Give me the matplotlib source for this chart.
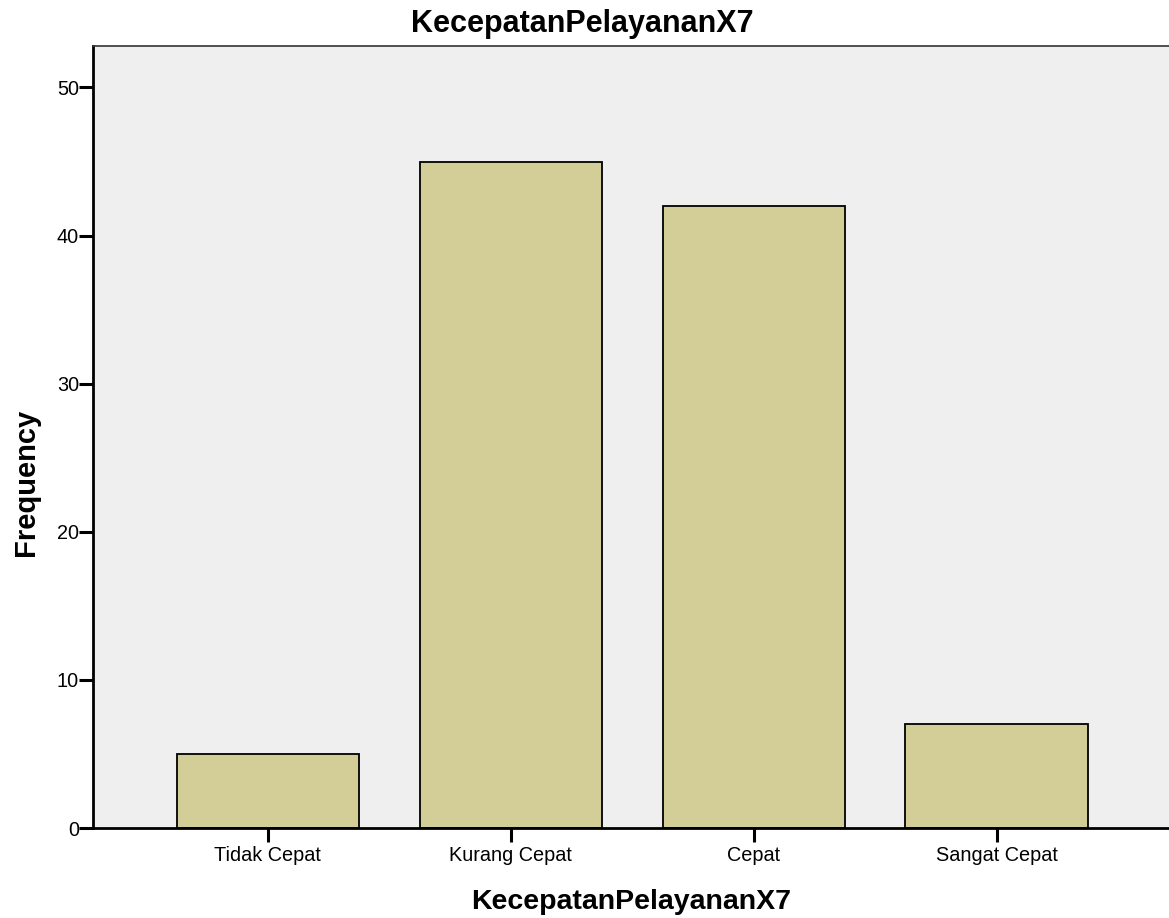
import matplotlib
matplotlib.use("Agg")
import matplotlib.pyplot as plt

categories = ["Tidak Cepat", "Kurang Cepat", "Cepat", "Sangat Cepat"]
frequencies = [5, 45, 42, 7]
y_ticks = [0, 10, 20, 30, 40, 50]
title = "KecepatanPelayananX7"

plt.rcParams['font.family'] = ['Liberation Sans', 'DejaVu Sans']

W, H = 1169, 918
fig = plt.figure(figsize=(W/100, H/100), dpi=100)
ax = fig.add_axes([93/W, 90/H, 1 - 93/W, (828-46)/H])
ax.set_facecolor("#EFEFEF")

x = list(range(len(categories)))
ax.bar(x, frequencies, width=0.75, color="#D3CE98", edgecolor="black", linewidth=1.3, zorder=2)

ax.set_xlim(-0.72, 3.71)
ax.set_ylim(0, 52.8)
ax.set_xticks(x)
ax.set_xticklabels(categories, fontsize=14.3)
ax.set_yticks(y_ticks)
ax.set_yticklabels([str(v) for v in y_ticks], fontsize=14.3)
ax.tick_params(axis='both', direction='out', length=10, width=2.2)
ax.tick_params(axis='y', pad=0)
ax.tick_params(axis='x', pad=3)

ax.spines['right'].set_visible(False)
ax.spines['top'].set_linewidth(1.2)
ax.spines['top'].set_color("#333333")
ax.spines['left'].set_linewidth(2)
ax.spines['bottom'].set_linewidth(2)

fig.text(582/W, 1 - 32/H, title, fontsize=22, fontweight='bold', ha='center', va='baseline')
fig.text(631/W, 1 - 909/H, title, fontsize=20.5, fontweight='bold', ha='center', va='baseline')
fig.text(26/W, 436/H, "Frequency", fontsize=21, fontweight='bold', ha='center', va='center', rotation=90)

fig.savefig("out.png", dpi=100)
